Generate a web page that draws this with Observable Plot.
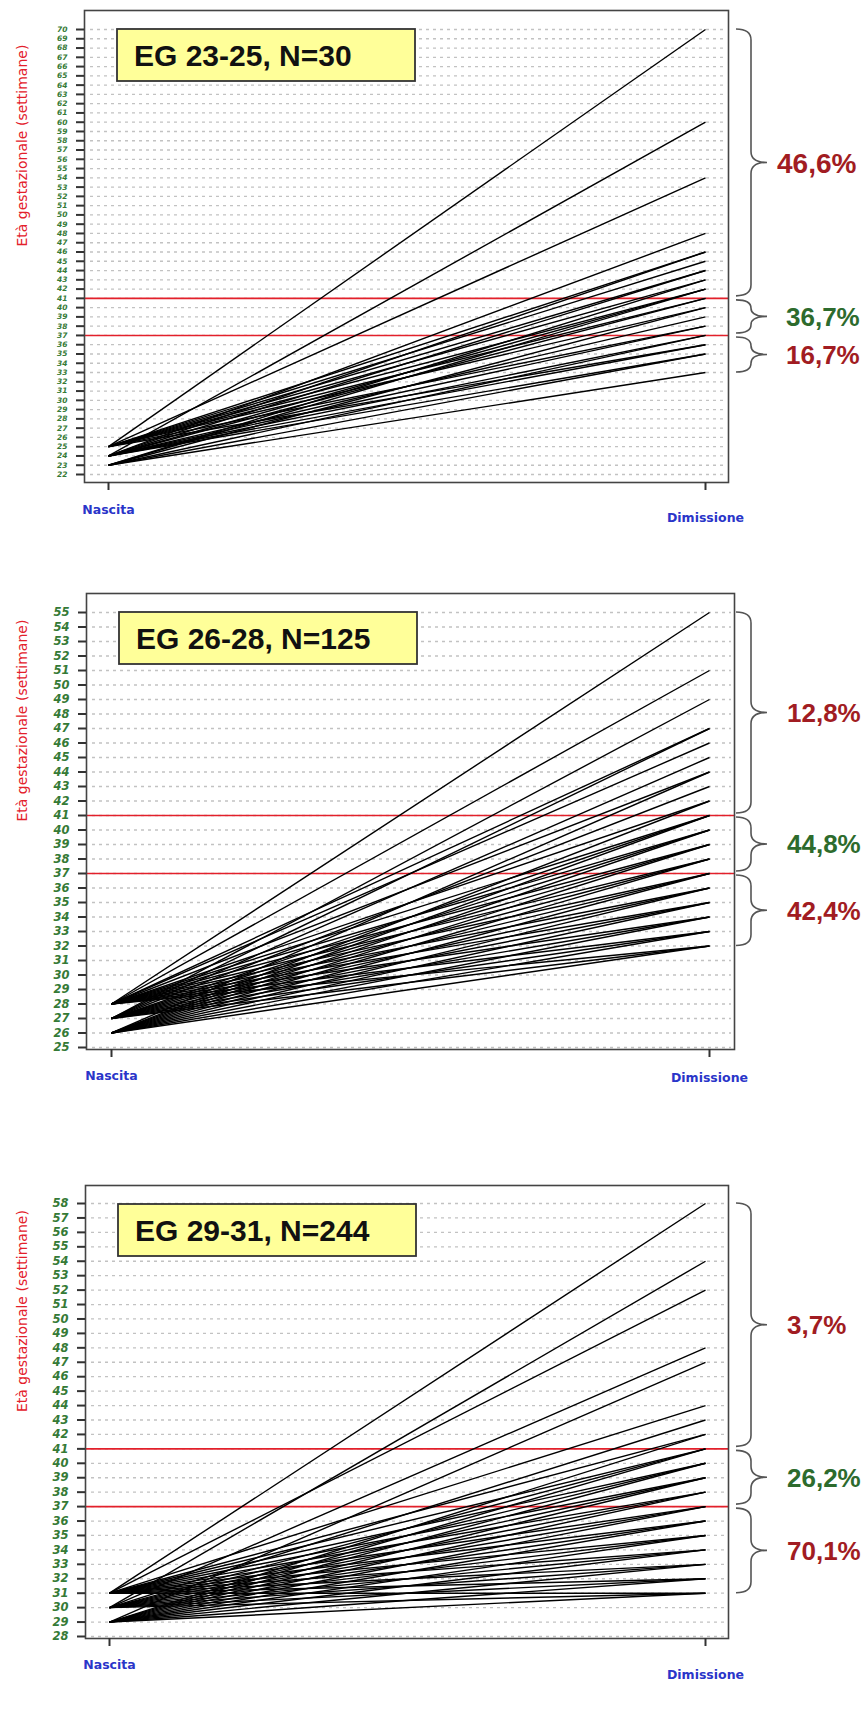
<!DOCTYPE html>
<html>
<head>
<meta charset="utf-8">
<script src="https://cdn.jsdelivr.net/npm/d3@7"></script>
<script src="https://cdn.jsdelivr.net/npm/@observablehq/plot@0.6"></script>
<style>
  html, body { margin: 0; padding: 0; background: #fff; }
  #chart { width: 866px; }
  #chart svg { display: block; }
</style>
</head>
<body>
<div id="chart"></div>
<script>
// ---------------- DATA ----------------
const xCategories = ["Nascita", "Dimissione"];
const yTitle = "Età gestazionale (settimane)";
const thresholds = [37, 41];

// Panel 1: EG 23-25 — [EG at birth, EG at discharge, number of infants]
const title1 = "EG 23-25, N=30";
const yDomain1 = [22, 70];
const combos1 = [
  [25,70,1],[24,60,1],[25,54,1],[24,48,1],[25,46,1],[24,46,1],[25,45,1],[24,44,1],
  [25,44,1],[23,43,1],[25,43,1],[24,42,1],[25,42,1],[23,42,1],
  [24,41,2],[25,41,1],[23,40,1],[25,40,1],[24,39,2],[25,38,1],[24,38,1],[23,37,1],[24,37,1],
  [24,36,1],[25,36,1],[23,35,1],[24,35,1],[23,33,1]
];
const pct1 = ["46,6%", "36,7%", "16,7%"];

// Panel 2: EG 26-28
const title2 = "EG 26-28, N=125";
const yDomain2 = [25, 55];
const combos2 = [
  [28,55,1],[28,51,1],[27,49,1],[28,47,2],[27,47,1],[28,46,1],[27,45,2],[26,44,1],
  [28,44,1],[27,43,2],[26,42,1],[28,42,2],
  [26,41,3],[27,41,4],[28,41,4],[26,40,4],[27,40,4],[28,40,4],[26,39,4],[27,39,4],[28,39,3],
  [26,38,4],[27,38,4],[28,38,4],[26,37,3],[27,37,4],[28,37,3],
  [26,36,4],[27,36,4],[28,36,4],[26,35,4],[27,35,4],[28,35,4],[26,34,4],[27,34,4],[28,34,3],
  [26,33,4],[27,33,3],[28,33,3],[26,32,3],[27,32,3],[28,32,2]
];
const pct2 = ["12,8%", "44,8%", "42,4%"];

// Panel 3: EG 29-31
const title3 = "EG 29-31, N=244";
const yDomain3 = [28, 58];
const combos3 = [
  [31,58,1],[30,54,1],[31,52,1],[30,48,1],[29,47,1],[31,44,1],[30,43,1],[29,42,1],[31,42,1],
  [29,41,2],[30,41,3],[31,41,3],[29,40,3],[30,40,4],[31,40,4],[29,39,4],[30,39,4],[31,39,5],
  [29,38,5],[30,38,5],[31,38,5],[29,37,5],[30,37,6],[31,37,6],
  [29,36,7],[30,36,8],[31,36,8],[29,35,9],[30,35,10],[31,35,10],[29,34,10],[30,34,11],[31,34,11],
  [29,33,10],[30,33,11],[31,33,11],[29,32,9],[30,32,10],[31,32,10],[29,31,8],[30,31,9],[31,31,9]
];
const pct3 = ["3,7%", "26,2%", "70,1%"];

// ---------------- STYLE ----------------
const RED_LINE = "#e3202b";
const TICK_GREEN = "#357a36";
const PCT_COLORS = ["#a11c22", "#2d6b2d", "#a11c22"];
const X_BLUE = "#2a35c9";

const layouts = [
  {height: 550, mt: 10, mb: 68, ml: 84, mr: 138, yRange: [474, 29], xRange: [108, 705], tickFont: 7.5, nascPad: 15, dimPad: 23, labelX: [777, 786, 786], labelSize: [28, 26, 26]},
  {height: 580, mt: 43, mb: 81, ml: 86, mr: 132, yRange: [497, 62], xRange: [111, 709], tickFont: 11.5, nascPad: 14, dimPad: 16, labelX: [787, 787, 787], labelSize: [26, 26, 26]},
  {height: 583, mt: 55, mb: 75, ml: 85, mr: 138, yRange: [506, 73], xRange: [109, 705], tickFont: 11.5, nascPad: 14, dimPad: 24, labelX: [787, 787, 787], labelSize: [26, 26, 26]}
];

const SVGNS = "http://www.w3.org/2000/svg";
function el(name, attrs) {
  const e = document.createElementNS(SVGNS, name);
  for (const k in attrs) e.setAttribute(k, attrs[k]);
  return e;
}

function boxMark(title) {
  return (index, scales, values, dims) => {
    const g = el("g", {"text-anchor": "start"});
    const x = dims.marginLeft + 33, y = dims.marginTop + 19;
    g.appendChild(el("rect", {x, y, width: 298, height: 52, fill: "#ffff99", stroke: "#333", "stroke-width": 1.8}));
    const t = el("text", {x: x + 17, y: y + 26, dy: "0.36em", "text-anchor": "start", "font-family": "Liberation Sans, Arial, sans-serif", "font-weight": "bold", "font-size": 30, fill: "#111"});
    t.textContent = title;
    g.appendChild(t);
    return g;
  };
}

function braceMark(ends, labels, lay) {
  return (index, scales, values, dims) => {
    const y = scales.y;
    const top = d3.max(ends), bot = d3.min(ends);
    const [lo, hi] = thresholds;
    const spans = [[y(top), y(hi) - 2], [y(hi) + 2, y(lo) - 2], [y(lo) + 2, y(bot)]];
    const g = el("g", {"text-anchor": "start"});
    const x0 = 736, xs = 751, xt = 767;
    spans.forEach(([yT, yB], i) => {
      const ym = (yT + yB) / 2;
      const r = Math.min(11, (yB - yT) / 4);
      const d = `M${x0},${yT} Q${xs},${yT} ${xs},${yT + r} L${xs},${ym - r} Q${xs},${ym} ${xt},${ym} Q${xs},${ym} ${xs},${ym + r} L${xs},${yB - r} Q${xs},${yB} ${x0},${yB}`;
      g.appendChild(el("path", {d, fill: "none", stroke: "#555", "stroke-width": 1.6}));
      const t = el("text", {x: lay.labelX[i], y: ym, dy: "0.36em", "text-anchor": "start", "font-family": "Liberation Sans, Arial, sans-serif", "font-weight": "bold", "font-size": lay.labelSize[i], fill: PCT_COLORS[i]});
      t.textContent = labels[i];
      g.appendChild(t);
    });
    return g;
  };
}

function panel(title, yDomain, combos, pct, lay) {
  const data = combos.map(([start, end, n]) => ({start, end, n}));
  const ends = data.map(d => d.end);
  const yTicks = d3.range(yDomain[0], yDomain[1] + 1);
  return Plot.plot({
    width: 866,
    height: lay.height,
    marginTop: lay.mt,
    marginBottom: lay.mb,
    marginLeft: lay.ml,
    marginRight: lay.mr,
    style: {background: "#fff", overflow: "visible"},
    x: {type: "point", domain: xCategories, range: lay.xRange, padding: 0},
    y: {domain: yDomain, range: lay.yRange},
    marks: [
      Plot.gridY(yTicks, {stroke: "#c2c2c2", strokeOpacity: 1, strokeWidth: 1.3, strokeDasharray: "3,4", insetLeft: 6, insetRight: 3}),
      Plot.ruleY(thresholds, {stroke: RED_LINE, strokeWidth: 1.6}),
      Plot.link(data, {x1: () => xCategories[0], x2: () => xCategories[1], y1: "start", y2: "end", stroke: "#000", strokeWidth: 1.4}),
      Plot.frame({stroke: "#444", strokeWidth: 1.6}),
      Plot.axisY(yTicks, {anchor: "left", tickSize: 8, tickPadding: 9, stroke: "#333", strokeWidth: 2, fill: TICK_GREEN, fontSize: lay.tickFont, fontStyle: "italic", fontWeight: "bold", fontFamily: "DejaVu Sans, sans-serif", tickFormat: d => String(d), label: null}),
      Plot.axisX([xCategories[0]], {anchor: "bottom", tickSize: 8, tickPadding: lay.nascPad, stroke: "#333", strokeWidth: 2, fill: X_BLUE, fontSize: 12.5, fontWeight: "bold", fontFamily: "DejaVu Sans, sans-serif", label: null}),
      Plot.axisX([xCategories[1]], {anchor: "bottom", tickSize: 8, tickPadding: lay.dimPad, stroke: "#333", strokeWidth: 2, fill: X_BLUE, fontSize: 12.5, fontWeight: "bold", fontFamily: "DejaVu Sans, sans-serif", label: null}),
      Plot.text([yTitle], {frameAnchor: "left", text: d => d, rotate: -90, dx: 22 - lay.ml, fill: RED_LINE, fontSize: 14, fontFamily: "DejaVu Sans, sans-serif"}),
      boxMark(title),
      braceMark(ends, pct, lay)
    ]
  });
}

const chart = document.getElementById("chart");
chart.appendChild(panel(title1, yDomain1, combos1, pct1, layouts[0]));
chart.appendChild(panel(title2, yDomain2, combos2, pct2, layouts[1]));
chart.appendChild(panel(title3, yDomain3, combos3, pct3, layouts[2]));
</script>
</body>
</html>
